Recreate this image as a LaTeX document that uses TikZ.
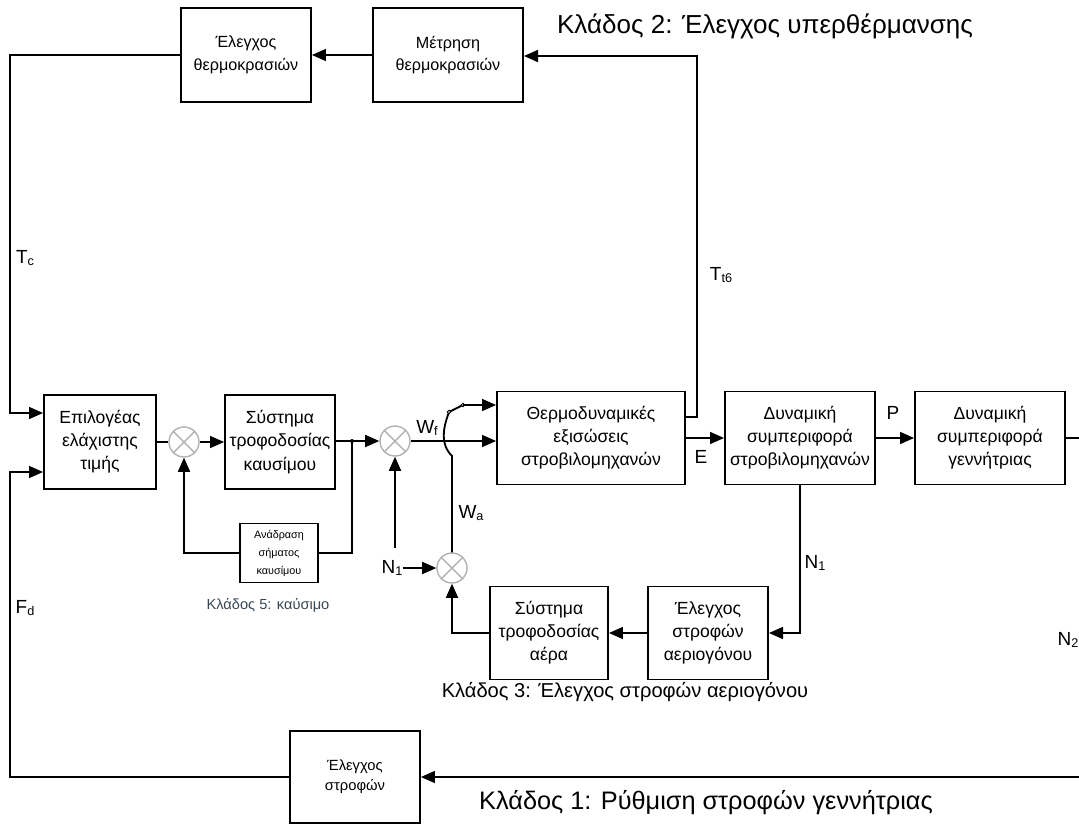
\documentclass[tikz,border=0pt]{standalone}
\usepackage{fontspec}
\setmainfont{Liberation Sans}
\usetikzlibrary{arrows.meta}
\definecolor{branchfive}{RGB}{55,70,85}
\newcommand{\sbs}[1]{\raisebox{-0.25ex}{\fontsize{9}{9}\selectfont #1}}

\begin{document}
\begin{tikzpicture}[x=0.025cm,y=-0.025cm,line width=1.3pt,
    blk/.style={draw,line width=1.3pt,align=center,inner sep=0pt,font=\fontsize{12.5}{16.4}\selectfont},
    sumj/.style={draw=gray!60,circle,line width=1pt,minimum size=0.75cm,inner sep=0pt},
    arr/.style={-{Triangle[length=10pt,width=8.5pt]}},
    lbl/.style={font=\fontsize{13.5}{15}\selectfont,inner sep=0pt}]
    \useasboundingbox (0,0) rectangle (1079,825);
    \node[blk,minimum width=3.25cm,minimum height=2.35cm,font=\fontsize{11.5}{16}\selectfont] (ctrlT) at (246,55) {Έλεγχος\\θερμοκρασιών};
    \node[blk,minimum width=3.75cm,minimum height=2.35cm,font=\fontsize{11.5}{16}\selectfont] (measT) at (448,55) {Μέτρηση\\θερμοκρασιών};
    \node[blk,minimum width=2.8cm,minimum height=2.35cm] (minsel) at (100,442) {Επιλογέας\\ελάχιστης\\τιμής};
    \node[sumj] (s1) at (184,442) {};
    \node[blk,minimum width=2.75cm,minimum height=2.35cm] (fuel) at (280,442) {Σύστημα\\τροφοδοσίας\\καυσίμου};
    \node[blk,minimum width=1.95cm,minimum height=1.475cm,font=\fontsize{7.7}{12.8}\selectfont] (fuelfb) at (279,553) {Ανάδραση\\σήματος\\καυσίμου};
    \node[sumj] (s2) at (395,441) {};
    \node[blk,minimum width=4.7cm,minimum height=2.325cm] (thermo) at (591,438) {Θερμοδυναμικές\\εξισώσεις\\στροβιλομηχανών};
    \node[sumj] (s3) at (452,568) {};
    \node[blk,minimum width=3.75cm,minimum height=2.325cm] (turb) at (800,438) {Δυναμική\\συμπεριφορά\\στροβιλομηχανών};
    \node[blk,minimum width=3.75cm,minimum height=2.325cm] (gen) at (990,438) {Δυναμική\\συμπεριφορά\\γεννήτριας};
    \node[blk,minimum width=3cm,minimum height=2.325cm] (ctrlN) at (708,633) {Έλεγχος\\στροφών\\αεριογόνου};
    \node[blk,minimum width=2.95cm,minimum height=2.325cm] (air) at (549,633) {Σύστημα\\τροφοδοσίας\\αέρα};
    \node[blk,minimum width=3.25cm,minimum height=2.3cm,font=\fontsize{10.5}{14}\selectfont] (ctrlS) at (355,777) {Έλεγχος\\στροφών};
    \foreach \s in {s1,s2,s3}
        \draw[gray!60,line width=1pt] (\s.45) -- (\s.225) (\s.135) -- (\s.315);
    \node[lbl] (tcl) at (25,258) {T\sbs{c}};
    \node[lbl] (fdl) at (25,608) {F\sbs{d}};
    \node[lbl] (ttl) at (721,275) {T\sbs{t6}};
    \node[lbl] (wfl) at (427,428) {W\sbs{f}};
    \node[lbl] (wal) at (471,513) {W\sbs{a}};
    \node[lbl] (n1l) at (392,568) {N\sbs{1}};
    \node[lbl] (n1r) at (815,563) {N\sbs{1}};
    \node[lbl] (n2l) at (1068,640) {N\sbs{2}};
    \node[lbl] (el) at (701,457) {E};
    \node[lbl] (pl) at (893,413) {P};
    \node[font=\fontsize{18.5}{20}\selectfont] (br2) at (765,26) {Κλάδος 2: Έλεγχος υπερθέρμανσης};
    \node[font=\fontsize{14.3}{16}\selectfont] (br3) at (625,692) {Κλάδος 3: Έλεγχος στροφών αεριογόνου};
    \node[font=\fontsize{18}{19}\selectfont] (br1) at (706,803) {Κλάδος 1: Ρύθμιση στροφών γεννήτριας};
    \node[font=\fontsize{10.4}{12}\selectfont,text=branchfive] (br5) at (268,605) {Κλάδος 5: καύσιμο};
    \coordinate (t1) at (697,417);
    \coordinate (t2) at (697,56);
    \coordinate (tc1) at (10,55);
    \coordinate (tc2) at (10,413);
    \coordinate (fd1) at (10,777);
    \coordinate (fd2) at (10,472);
    \coordinate (fbj) at (352,441);
    \coordinate (n1v) at (395,548);
    \coordinate (h1) at (452,456);
    \coordinate (h2) at (449,412);
    \coordinate (h3) at (463,405);
    \coordinate (gr1) at (1088,438);
    \coordinate (gr2) at (1088,777);
    \draw[arr] (thermo.east |- t1) -- (t1) -- (t2) -- (measT.east |- t2);
    \draw[arr] (measT) -- (ctrlT);
    \draw[arr] (ctrlT.west) -- (tc1) -- (tc2) -- (minsel.west |- tc2);
    \draw[arr] (ctrlS.west) -- (fd1) -- (fd2) -- (minsel.west |- fd2);
    \draw (minsel) -- (s1);
    \draw[arr] (s1) -- (fuel);
    \draw[arr] (fuel.east |- fbj) -- (s2.west);
    \fill (fbj) circle (2);
    \draw (fbj) -- (fbj |- fuelfb.east) -- (fuelfb.east);
    \draw[arr] (fuelfb.west) -- (fuelfb.west -| s1) -- (s1.south);
    \draw[arr] (s2.east) -- (s2.east -| thermo.west);
    \draw[arr] (n1l.east) -- (s3.west);
    \draw[arr] (n1v) -- (s2.south);
    \draw (s3.north) -- (h1) to[out=135,in=-110] (h2) -- (h3);
    \draw[line width=0.6pt,fill=white] (h2) circle (1.8) (h3) circle (1.8);
    \draw[arr] (h3) -- (h3 -| thermo.west);
    \draw[arr] (thermo) -- (turb);
    \draw[arr] (turb) -- (gen);
    \draw[arr] (gen.east) -- (gr1) -- (gr2) -- (ctrlS.east);
    \draw[arr] (turb.south) -- (turb.south |- ctrlN.east) -- (ctrlN.east);
    \draw[arr] (ctrlN) -- (air);
    \draw[arr] (air.west) -- (air.west -| s3) -- (s3.south);
\end{tikzpicture}
\end{document}
